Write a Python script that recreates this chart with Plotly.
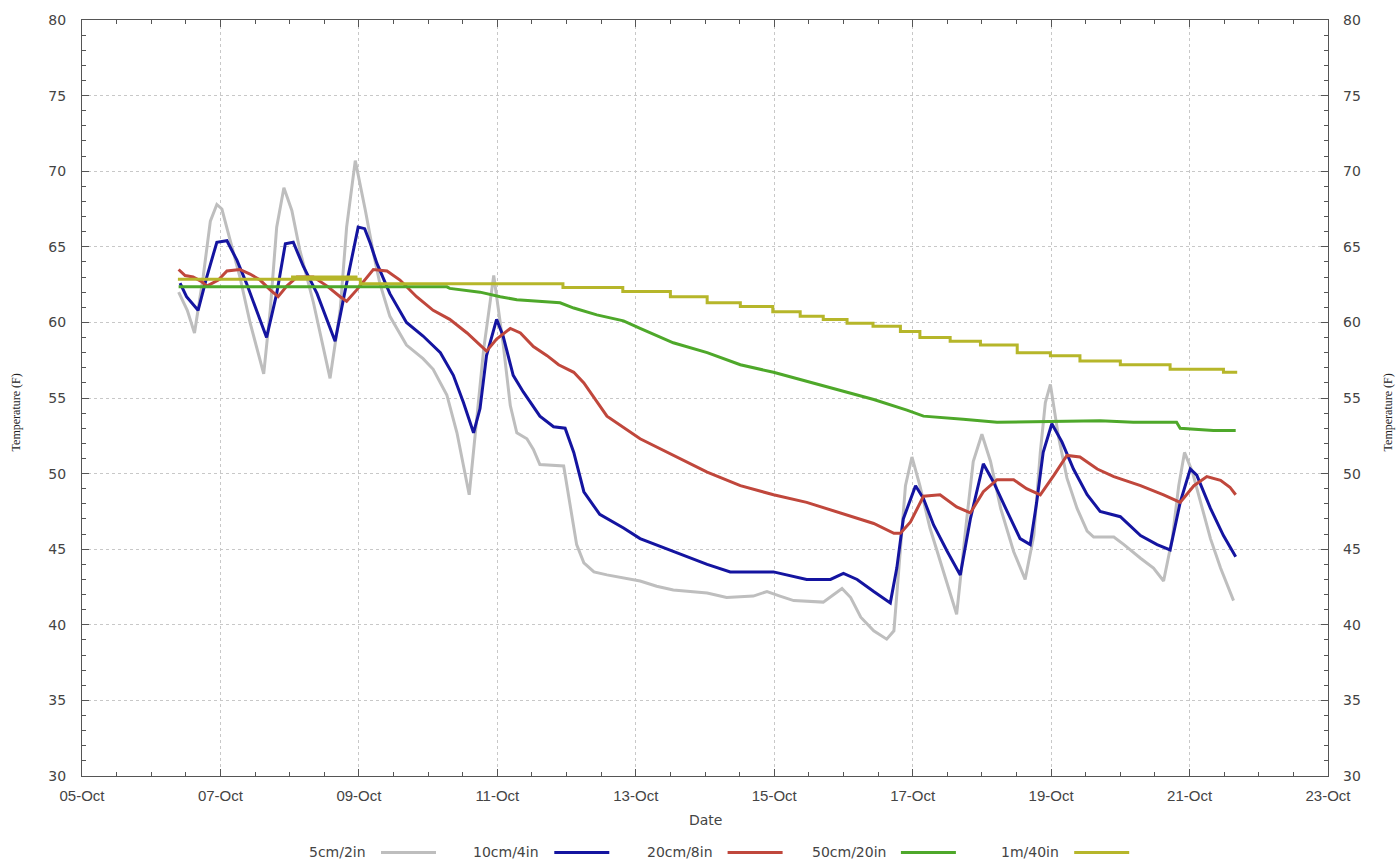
import plotly.graph_objects as go

# ---------------- data ----------------
YEAR_MONTH = "2014-10-"

t_5cm = ["06 09:30", "06 12:30", "06 15:00", "06 18:00", "06 20:30", "06 22:45", "07 00:30", "07 03:15",
         "07 06:45", "07 10:15", "07 15:00", "07 17:15", "07 19:30", "07 22:00", "08 00:45", "08 03:30",
         "08 08:15", "08 14:00", "08 17:30", "08 19:45", "08 22:45", "09 02:15", "09 05:00", "09 07:15",
         "09 10:45", "09 16:30", "09 22:15", "10 01:45", "10 06:30", "10 10:00", "10 14:15", "10 19:15",
         "10 22:45", "11 02:00", "11 04:30", "11 06:45", "11 10:15", "11 12:30", "11 14:45", "11 23:00",
         "12 01:15", "12 03:30", "12 06:00", "12 09:30", "12 14:00", "12 19:45", "13 01:30", "13 07:15",
         "13 13:00", "14 00:45", "14 07:30", "14 16:45", "14 21:30", "15 02:00", "15 06:45", "15 17:00",
         "15 20:30", "15 23:30", "16 02:30", "16 06:00", "16 10:30", "16 15:00", "16 17:30", "16 19:45",
         "16 21:30", "16 23:45", "17 02:30", "17 06:00", "17 10:45", "17 15:15", "17 18:45", "17 21:00",
         "18 00:00", "18 03:00", "18 06:30", "18 11:00", "18 15:00", "18 18:00", "18 20:15", "18 22:00",
         "18 23:45", "19 02:30", "19 05:30", "19 09:00", "19 12:30", "19 14:45", "19 21:45", "20 01:15",
         "20 07:00", "20 11:30", "20 15:00", "20 18:00", "20 20:15", "20 22:15", "21 01:00", "21 03:45",
         "21 07:15", "21 10:45", "21 15:15"]
v_5cm = [62.0, 60.8, 59.3, 63.0, 66.7, 67.8, 67.5, 65.6,
         63.0, 60.0, 56.6, 60.8, 66.3, 68.9, 67.4, 64.8,
         61.3, 56.3, 60.8, 66.3, 70.7, 67.4, 64.6, 62.6,
         60.4, 58.5, 57.6, 56.9, 55.2, 52.7, 48.6, 58.2,
         63.1, 58.6, 54.5, 52.7, 52.3, 51.6, 50.6, 50.5,
         47.9, 45.3, 44.1, 43.5, 43.3, 43.1, 42.9, 42.55,
         42.3, 42.1, 41.8, 41.9, 42.2, 41.9, 41.6, 41.5,
         42.0, 42.4, 41.8, 40.5, 39.6, 39.05, 39.6, 44.85,
         49.2, 51.1, 49.2, 46.4, 43.5, 40.7, 47.0, 50.8,
         52.6, 50.8, 47.7, 44.85, 43.0, 45.9, 51.4, 54.7,
         55.9, 52.5, 49.7, 47.7, 46.2, 45.8, 45.8, 45.3,
         44.4, 43.75, 42.9, 45.7, 49.2, 51.4, 50.1, 48.1,
         45.7, 43.75, 41.6]

t_10cm = ["06 10:00", "06 12:15", "06 16:15", "06 19:15", "06 22:45", "07 02:15", "07 05:45", "07 09:00",
          "07 12:30", "07 16:00", "07 19:30", "07 22:30", "08 01:15", "08 04:45", "08 09:30", "08 15:45",
          "08 19:45", "08 23:45", "09 02:00", "09 04:00", "09 06:15", "09 10:45", "09 16:30", "09 22:15",
          "10 04:15", "10 08:45", "10 12:15", "10 15:45", "10 18:00", "10 20:15", "10 23:45", "11 02:00",
          "11 05:30", "11 09:00", "11 14:45", "11 19:30", "11 23:30", "12 02:30", "12 06:00", "12 11:30",
          "12 19:45", "13 01:30", "13 13:00", "14 00:45", "14 08:45", "14 23:45", "15 11:15", "15 19:30",
          "16 00:00", "16 04:45", "16 10:30", "16 16:15", "16 18:30", "16 20:45", "17 01:00", "17 03:45",
          "17 07:15", "17 12:00", "17 16:30", "17 20:00", "18 00:30", "18 04:00", "18 08:45", "18 13:15",
          "18 16:45", "18 19:00", "18 21:15", "19 00:15", "19 03:45", "19 07:45", "19 12:30", "19 17:00",
          "20 00:00", "20 07:00", "20 12:45", "20 17:15", "20 20:45", "21 00:15", "21 02:30", "21 07:15",
          "21 11:45", "21 16:00"]
v_10cm = [62.6, 61.7, 60.8, 63.0, 65.3, 65.4, 64.1, 62.6,
          60.8, 59.0, 61.9, 65.2, 65.3, 63.7, 61.9, 58.75,
          62.6, 66.3, 66.2, 65.2, 63.9, 61.9, 60.0, 59.1,
          58.0, 56.5, 54.7, 52.7, 54.3, 57.8, 60.2, 59.1,
          56.5, 55.4, 53.8, 53.1, 53.0, 51.4, 48.8, 47.3,
          46.4, 45.7, 44.85, 44.0, 43.5, 43.5, 43.0, 43.0,
          43.4, 43.0, 42.2, 41.45, 43.75, 47.0, 49.2, 48.35,
          46.6, 44.85, 43.3, 47.0, 50.65, 49.45, 47.5, 45.7,
          45.3, 48.1, 51.4, 53.3, 52.1, 50.3, 48.6, 47.5,
          47.15, 45.9, 45.3, 44.95, 48.1, 50.3, 49.9, 47.7,
          45.9, 44.5]

t_20cm = ["06 09:30", "06 11:45", "06 14:30", "06 17:30", "06 19:15", "06 23:15", "07 02:15", "07 06:45",
          "07 10:15", "07 13:45", "07 17:15", "07 20:00", "07 23:00", "08 02:30", "08 08:15", "08 13:00",
          "08 17:30", "08 19:45", "08 23:15", "09 02:45", "09 05:00", "09 09:45", "09 14:15", "09 20:00",
          "10 01:45", "10 07:30", "10 13:30", "10 20:15", "10 23:45", "11 04:30", "11 08:00", "11 12:30",
          "11 17:15", "11 21:15", "12 02:30", "12 06:00", "12 14:00", "13 01:30", "13 13:00", "14 00:45",
          "14 12:15", "14 23:45", "15 11:15", "15 23:00", "16 10:30", "16 17:30", "16 19:45", "16 23:15",
          "17 03:45", "17 09:30", "17 15:15", "17 20:00", "18 00:30", "18 05:15", "18 11:00", "18 15:30",
          "18 20:15", "19 01:00", "19 05:30", "19 10:00", "19 16:00", "19 21:45", "20 07:00", "20 15:00",
          "20 20:45", "21 01:30", "21 06:00", "21 10:45", "21 14:00", "21 16:00"]
v_20cm = [63.5, 63.1, 63.0, 62.7, 62.4, 62.8, 63.4, 63.5,
          63.2, 62.8, 62.15, 61.7, 62.4, 63.0, 63.0, 62.4,
          61.7, 61.4, 62.15, 63.0, 63.5, 63.4, 62.8, 61.7,
          60.8, 60.2, 59.3, 58.1, 58.9, 59.6, 59.3, 58.4,
          57.8, 57.2, 56.7, 56.0, 53.8, 52.3, 51.2, 50.1,
          49.2, 48.6, 48.1, 47.4, 46.7, 46.05, 46.05, 46.8,
          48.5, 48.6, 47.8, 47.4, 48.8, 49.6, 49.6, 49.0,
          48.6, 49.9, 51.2, 51.1, 50.3, 49.8, 49.2, 48.6,
          48.1, 49.2, 49.8, 49.55, 49.1, 48.6]

t_50cm = ["06 09:30", "10 06:30", "10 07:30", "10 18:00", "11 01:00", "11 06:45", "11 21:45", "12 02:30",
          "12 10:30", "12 19:45", "13 01:30", "13 07:15", "13 13:00", "14 00:45", "14 12:15", "14 23:45",
          "15 11:15", "15 23:00", "16 10:30", "16 22:00", "17 03:45", "17 17:30", "18 05:15", "19 17:00",
          "20 04:30", "20 19:30", "20 20:45", "21 08:15", "21 16:00"]
v_50cm = [62.35, 62.35, 62.25, 62.0, 61.7, 61.5, 61.3, 60.95,
          60.5, 60.1, 59.6, 59.1, 58.65, 58.0, 57.2, 56.7,
          56.1, 55.5, 54.9, 54.2, 53.8, 53.6, 53.4, 53.5,
          53.4, 53.4, 53.0, 52.85, 52.85]

t_1m = ["06 09:15", "08 01:00", "08 01:45", "08 02:30", "08 03:15", "08 04:00", "08 05:00", "08 06:00",
        "08 07:00", "08 08:00", "08 09:00", "08 10:00", "08 11:00", "08 12:00", "08 13:00", "08 14:00",
        "08 15:00", "08 16:00", "08 17:00", "08 18:00", "08 19:00", "08 20:00", "08 21:00", "08 22:00",
        "08 23:00",
        "09 00:30", "11 22:45", "12 19:30", "13 12:00", "14 00:45", "14 12:15", "14 23:30",
        "15 09:00", "15 17:00", "16 01:15", "16 10:15", "16 19:45", "17 02:30", "17 13:00", "17 23:30",
        "18 12:15", "18 23:45", "19 10:00", "20 00:00", "20 17:15", "21 11:45", "21 16:00"]
v_1m = [62.85, 63.0, 62.85, 63.0, 62.85, 63.0, 62.85, 63.0,
        62.85, 63.0, 62.85, 63.0, 62.85, 63.0, 62.85, 63.0,
        62.85, 63.0, 62.85, 63.0, 62.85, 63.0, 62.85, 63.0,
        62.85,
        62.55, 62.3, 62.05, 61.7, 61.3, 61.05, 60.7,
        60.4, 60.2, 59.95, 59.75, 59.4, 59.0, 58.75, 58.5,
        58.0, 57.8, 57.45, 57.2, 56.9, 56.7, 56.6]

series_names = ["5cm/2in", "10cm/4in", "20cm/8in", "50cm/20in", "1m/40in"]
series_times = [t_5cm, t_10cm, t_20cm, t_50cm, t_1m]
series_values = [v_5cm, v_10cm, v_20cm, v_50cm, v_1m]

x_range = ["2014-10-05", "2014-10-23"]
y_range = [30, 80]
x_title = "Date"
y_title = "Temperature (F)"

# ---------------- styles ----------------
colors = ["#bebebe", "#1414a0", "#c0473c", "#4ea82a", "#b6b62a"]
shapes_mode = ["linear", "linear", "linear", "linear", "hv"]

W, H = 1399, 864
L, R, T, B = 82, 71, 15, 88
PW, PH = W - L - R, H - T - B

fig = go.Figure()
for name, ts, vs, c, sh in zip(series_names, series_times, series_values, colors, shapes_mode):
    fig.add_trace(go.Scatter(
        x=[YEAR_MONTH + s[:2] + " " + s[3:] for s in ts], y=vs, mode="lines", name=name,
        line=dict(color=c, width=3, shape=sh), showlegend=False, hoverinfo="skip"))

tickfont = dict(family="DejaVu Sans, Verdana, sans-serif", size=14, color="#444444")
axcol = "#555555"

fig.update_layout(
    width=W, height=H,
    margin=dict(l=L, r=R, t=T, b=B),
    paper_bgcolor="white", plot_bgcolor="white",
    xaxis=dict(
        range=x_range, type="date", tickformat="%d-%b", dtick=2 * 86400000, tick0="2014-10-05",
        showline=True, linecolor=axcol, linewidth=1, mirror="ticks",
        ticks="inside", ticklen=7, tickcolor=axcol, tickwidth=1,
        minor=dict(dtick=43200000, ticks="inside", ticklen=4, tickcolor=axcol, showgrid=False),
        showgrid=True, gridcolor="#c8c8c8", griddash="dot", gridwidth=1,
        tickfont=dict(family="Liberation Sans Narrow, Liberation Sans, sans-serif", size=15, color="#444444"),
        ticklabelstandoff=6, zeroline=False,
    ),
    yaxis=dict(
        range=y_range, dtick=5, tick0=30,
        showline=True, linecolor=axcol, linewidth=1, mirror="ticks",
        ticks="inside", ticklen=7, tickcolor=axcol, tickwidth=1,
        minor=dict(dtick=1, ticks="inside", ticklen=4, tickcolor=axcol, showgrid=False),
        showgrid=True, gridcolor="#c8c8c8", griddash="dot", gridwidth=1,
        tickfont=tickfont, ticklabelstandoff=12, zeroline=False,
    ),
    yaxis2=dict(
        range=y_range, dtick=5, tick0=30, overlaying="y", side="right", anchor="x",
        showline=False, ticks="", showgrid=False, zeroline=False,
        tickfont=tickfont, ticklabelstandoff=14,
    ),
)

# invisible helper so the right axis is rendered with the same scale
fig.add_trace(go.Scatter(x=[x_range[0]], y=[y_range[0]], yaxis="y2", mode="lines",
                         line=dict(width=0), showlegend=False, hoverinfo="skip"))

def px2x(px):
    return (px - L) / PW

def py2y(py):
    return (H - B - py) / PH

annotations = []
shapes = []
annotations.append(dict(text=x_title, x=px2x(705), y=py2y(820), xref="paper", yref="paper",
                        showarrow=False, font=dict(family="DejaVu Sans, sans-serif", size=14, color="#444444"),
                        xanchor="center", yanchor="middle"))
for xp in (16, 1388):
    annotations.append(dict(text=y_title, x=px2x(xp), y=py2y(410), xref="paper", yref="paper",
                            showarrow=False, textangle=-90,
                            font=dict(family="Liberation Serif, serif", size=12, color="#222222"),
                            xanchor="center", yanchor="middle"))

# legend: label then line sample, laid out in a row
leg_y = py2y(853)
line_start0, step, line_len, gap = 381, 173.3, 55, 13
for i, (name, c) in enumerate(zip(series_names, colors)):
    ls = line_start0 + i * step
    annotations.append(dict(text=name, x=px2x(ls - gap), y=leg_y, xref="paper", yref="paper",
                            showarrow=False, xanchor="right", yanchor="middle",
                            font=dict(family="DejaVu Sans, sans-serif", size=14, color="#444444")))
    shapes.append(dict(type="line", xref="paper", yref="paper", x0=px2x(ls), x1=px2x(ls + line_len),
                       y0=leg_y, y1=leg_y, line=dict(color=c, width=3)))

fig.update_layout(annotations=annotations, shapes=shapes)
fig.write_html("out.html", config={"displayModeBar": False},
               post_script="document.body.style.margin='0px';")
